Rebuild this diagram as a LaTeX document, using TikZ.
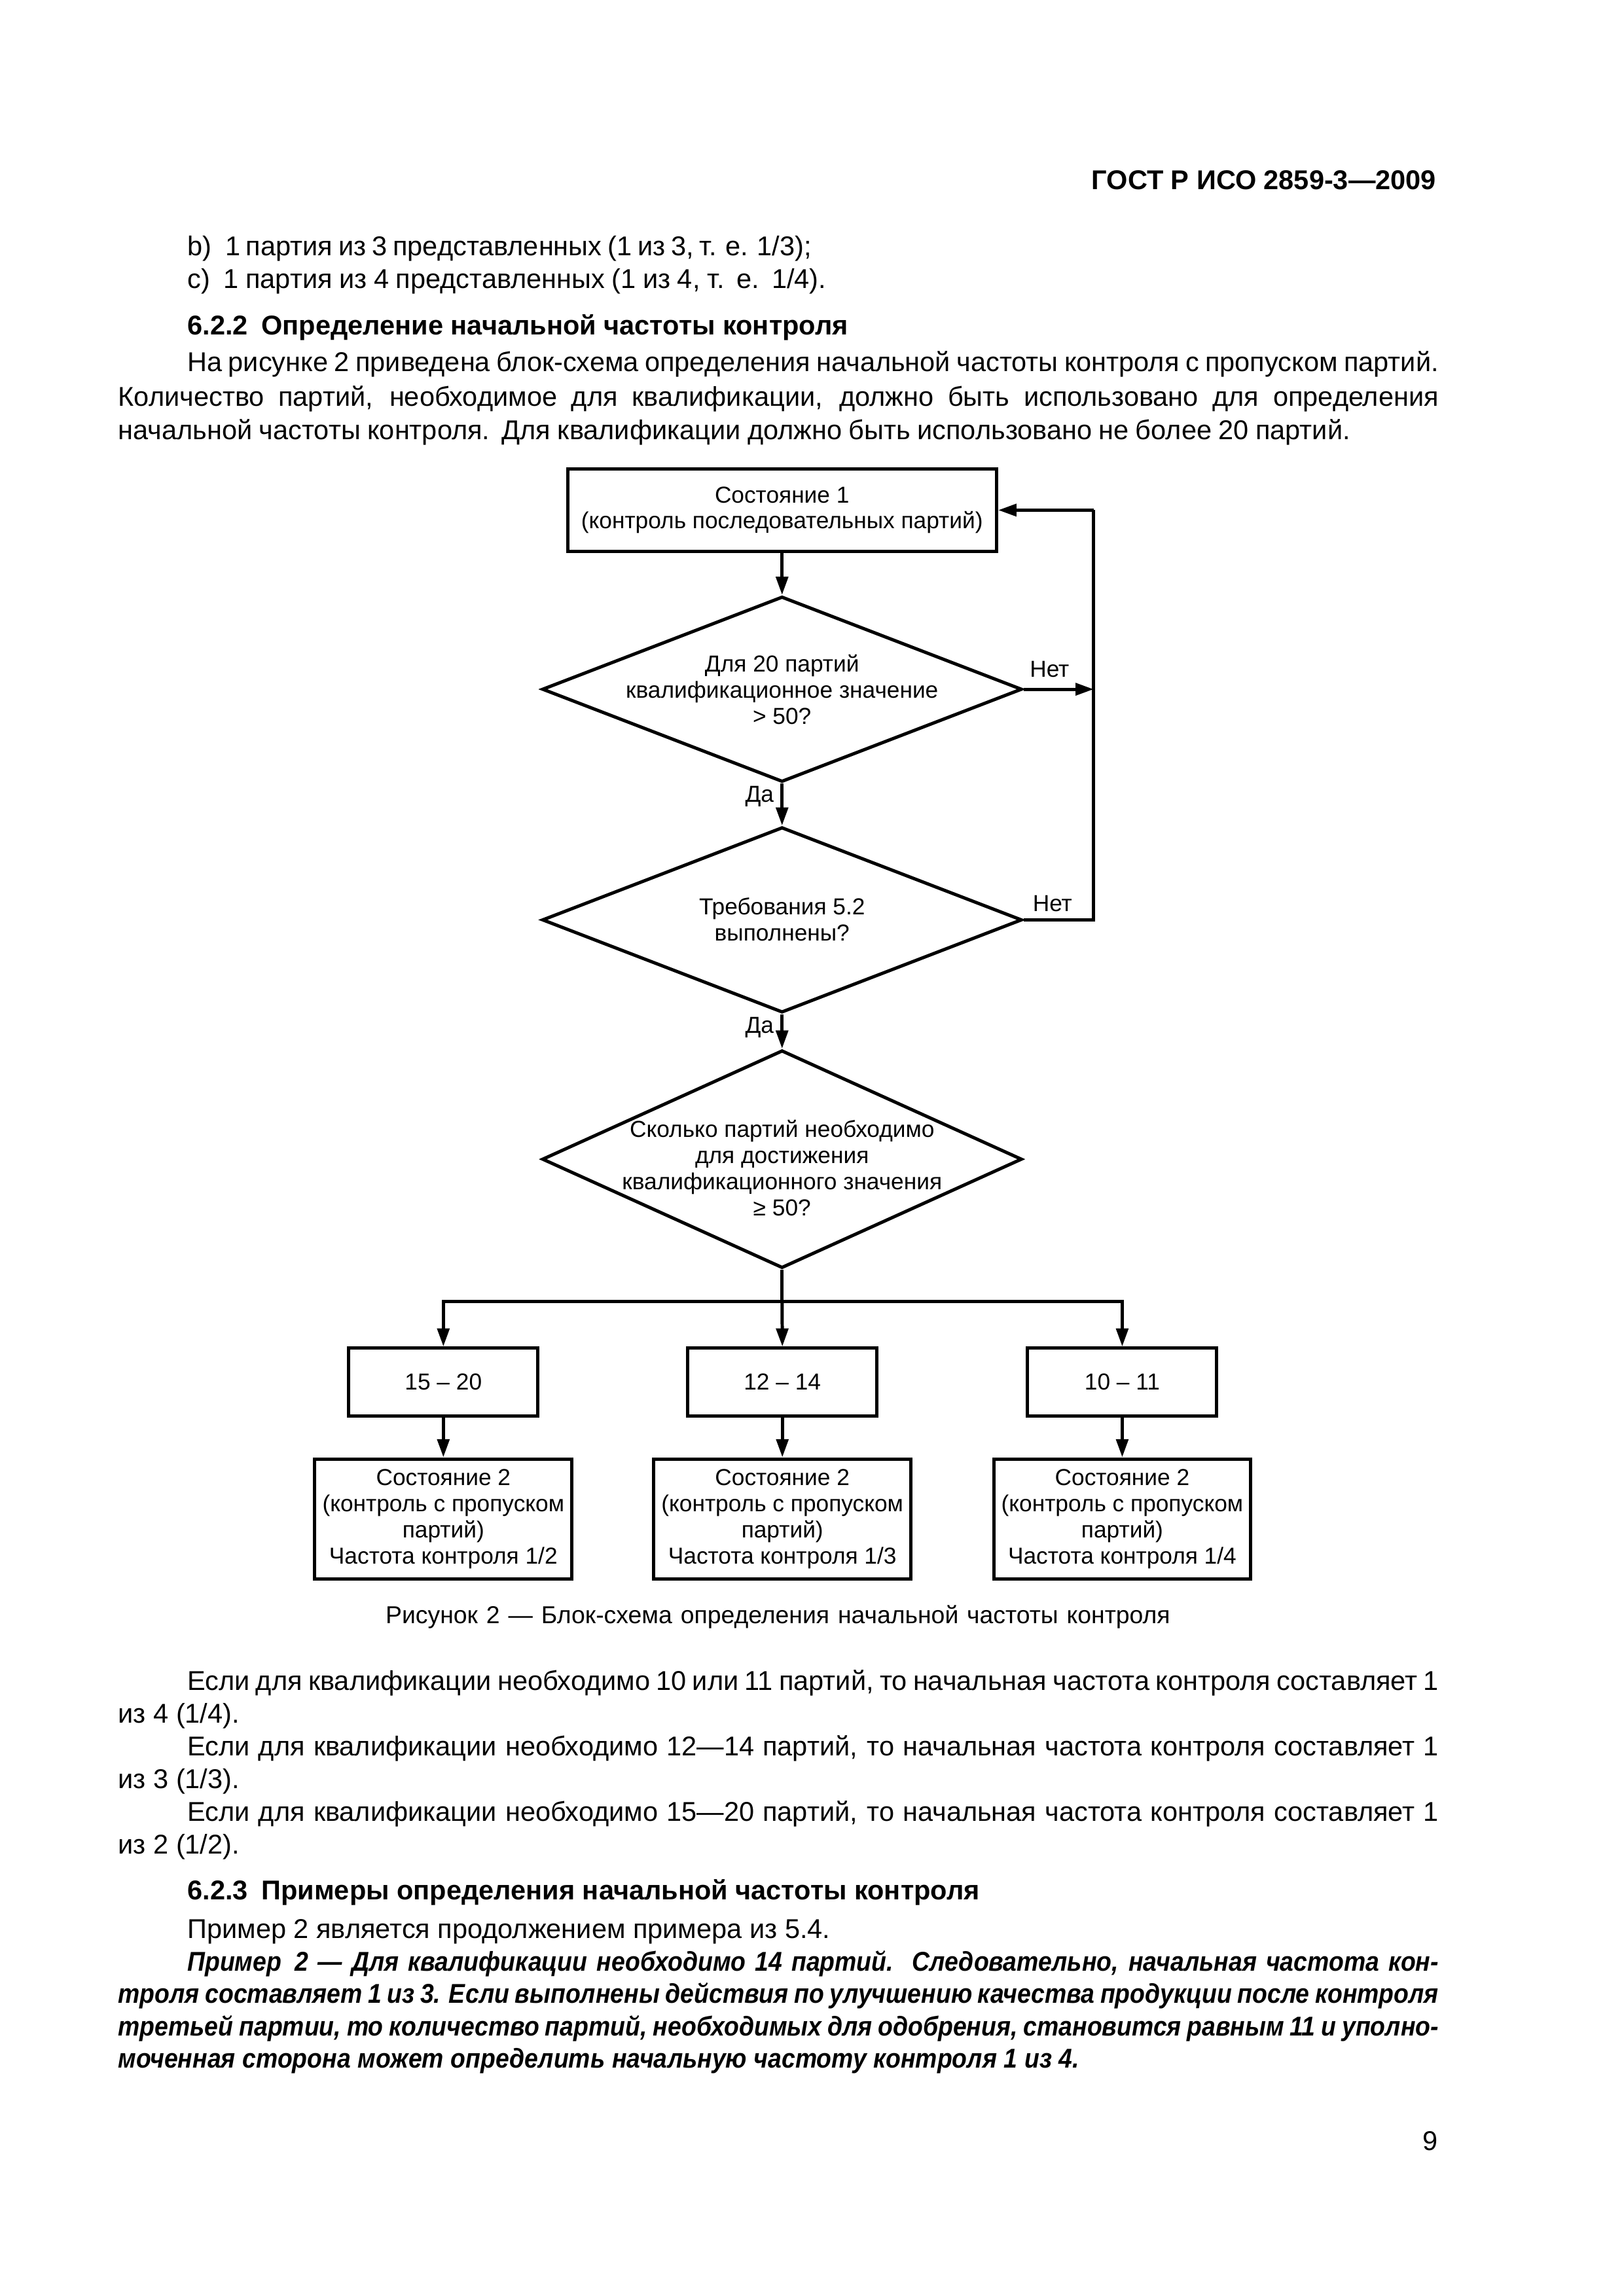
\documentclass[tikz,border=0pt]{standalone}
\usepackage{fontspec}
\setmainfont{Liberation Sans}
\newfontfamily\flowf{Liberation Sans}
\newfontfamily\hdf{Liberation Sans}
\newfontfamily\bif{Liberation Sans}[FakeStretch=0.9]
\usetikzlibrary{arrows.meta,shapes.geometric}
\newlength\pxu
\setlength\pxu{0.19039mm}
\newcommand\jl[2]{\makebox[#1\pxu][s]{\spaceskip=0.2em plus 0.8em minus 0.15em\relax #2}}
\newcommand\bodyfont{\fontsize{10}{12}\selectfont}
\newcommand\flowfont{\flowf\fontsize{8.5}{9.6}\selectfont}
\begin{document}
\begin{tikzpicture}[x=0.19039mm,y=-0.19039mm,
  txt/.style={anchor=base west,inner sep=0pt,font=\bodyfont},
  bitxt/.style={anchor=base west,inner sep=0pt,font=\bif\fontsize{10}{12}\selectfont\bfseries\itshape},
  hd/.style={anchor=base west,inner sep=0pt,font=\hdf\fontsize{10}{12}\selectfont\bfseries},
  blk/.style={draw,line width=1.2pt,inner sep=0pt,align=center,font=\flowfont},
  dia/.style={draw,line width=1.2pt,shape=diamond,inner sep=0pt,minimum width=326\pxu},
  dtxt/.style={inner sep=0pt,align=center,font=\flowfont},
  lab/.style={inner sep=0pt,font=\flowfont},
  arr/.style={line width=1.2pt,-{Triangle[length=2.35mm,width=1.55mm]}},
  ln/.style={line width=1.2pt}]
\useasboundingbox (0,0) rectangle (1103,1560);
\fill[white] (0,0) rectangle (1103,1560);

% header
\node[hd,anchor=base east] (hdr) at (976,128.7) {ГОСТ Р ИСО 2859-3—2009};

\node[txt] (tb) at (127,173.5) {\jl{424}{b)\enspace 1 партия из 3 представленных (1 из 3, т. е. 1/3);}};
\node[txt] (tc) at (127,196) {\jl{434}{c)\enspace 1 партия из 4 представленных (1 из 4, т. е. 1/4).}};
\node[hd] (h622) at (127,227.5) {6.2.2\enspace Определение начальной частоты контроля};
\node[txt] (p1) at (127,252.5) {\jl{850}{На рисунке 2 приведена блок-схема определения начальной частоты контроля с пропуском партий.}};
\node[txt] (p2) at (80,276) {\jl{897}{Количество партий, необходимое для квалификации, должно быть использовано для определения}};
\node[txt] (p3) at (80,298.5) {\jl{837}{начальной частоты контроля. Для квалификации должно быть использовано не более 20 партий.}};

% flowchart
\node[blk,minimum width=291.5\pxu,minimum height=56.2\pxu] (s1) at (531.3,346.6) {Состояние 1\\(контроль последовательных партий)};
\node[dia,minimum height=126\pxu] (d1) at (531.3,468.3) {};
\node[dtxt] (d1t) at (531.3,468.5) {Для 20 партий\\квалификационное значение\\> 50?};
\node[dia,minimum height=126\pxu] (d2) at (531.3,625) {};
\node[dtxt] (d2t) at (531.3,624.5) {Требования 5.2\\выполнены?};
\node[dia,minimum height=148\pxu] (d3) at (531.3,787.6) {};
\node[dtxt] (d3t) at (531.3,793.5) {Сколько партий необходимо\\для достижения\\квалификационного значения\\≥ 50?};

\coordinate (r1) at (743,468.3);
\coordinate (r2) at (743,625);
\coordinate (r3) at (743,346.6);
\coordinate (j0) at (531.3,884.4);
\coordinate (jl) at (301.2,884.4);
\coordinate (jr) at (762.4,884.4);

\node[blk,minimum width=128.5\pxu,minimum height=46\pxu] (a1) at (301.2,939) {15 – 20};
\node[blk,minimum width=128.5\pxu,minimum height=46\pxu] (a2) at (531.5,939) {12 – 14};
\node[blk,minimum width=128.5\pxu,minimum height=46\pxu] (a3) at (762.4,939) {10 – 11};
\node[blk,minimum width=174.7\pxu,minimum height=81.5\pxu] (b1) at (301.2,1032) {Состояние 2\\(контроль с пропуском\\партий)\\Частота контроля 1/2};
\node[blk,minimum width=174.7\pxu,minimum height=81.5\pxu] (b2) at (531.5,1032) {Состояние 2\\(контроль с пропуском\\партий)\\Частота контроля 1/3};
\node[blk,minimum width=174.7\pxu,minimum height=81.5\pxu] (b3) at (762.4,1032) {Состояние 2\\(контроль с пропуском\\партий)\\Частота контроля 1/4};

\draw[arr] (s1.south) -- (d1.north);
\draw[arr] (d1.south) -- (d2.north);
\draw[arr] (d2.south) -- (d3.north);
\draw[arr] (d1.east) -- (r1);
\draw[ln,line join=miter] (d2.east) -- (r2) -- (r3);
\draw[arr] (r3) -- (s1.east);
\draw[ln] (d3.south) -- (j0);
\draw[ln,line cap=rect] (jl) -- (jr);
\draw[arr] (jl) -- (a1.north);
\draw[arr] (j0) -- (a2.north);
\draw[arr] (jr) -- (a3.north);
\draw[arr] (a1.south) -- (b1.north);
\draw[arr] (a2.south) -- (b2.north);
\draw[arr] (a3.south) -- (b3.north);

\node[lab] (n1) at (713,454.5) {Нет};
\node[lab] (n2) at (715,614) {Нет};
\node[lab] (y1) at (516,541) {Да};
\node[lab] (y2) at (516,698) {Да};

\node[inner sep=0pt,font=\fontsize{9}{11}\selectfont] (cap) at (528.5,1098.8) {\jl{533}{Рисунок 2 — Блок-схема определения начальной частоты контроля}};

% bottom text
\node[txt] (q1) at (127,1148.5) {\jl{850}{Если для квалификации необходимо 10 или 11 партий, то начальная частота контроля составляет 1}};
\node[txt] (q2) at (80,1170.5) {из 4 (1/4).};
\node[txt] (q3) at (127,1193) {\jl{850}{Если для квалификации необходимо 12—14 партий, то начальная частота контроля составляет 1}};
\node[txt] (q4) at (80,1215) {из 3 (1/3).};
\node[txt] (q5) at (127,1237.5) {\jl{850}{Если для квалификации необходимо 15—20 партий, то начальная частота контроля составляет 1}};
\node[txt] (q6) at (80,1259.5) {из 2 (1/2).};
\node[hd] (h623) at (127,1290.5) {6.2.3\enspace Примеры определения начальной частоты контроля};
\node[txt] (e0) at (127,1317) {Пример 2 является продолжением примера из 5.4.};
\node[bitxt] (e1) at (127,1339) {\jl{850}{Пример\enspace 2 — Для квалификации необходимо 14 партий. Следовательно, начальная частота кон-}};
\node[bitxt] (e2) at (80,1361) {\jl{897}{троля составляет 1 из 3. Если выполнены действия по улучшению качества продукции после контроля}};
\node[bitxt] (e3) at (80,1383) {\jl{897}{третьей партии, то количество партий, необходимых для одобрения, становится равным 11 и уполно-}};
\node[bitxt] (e4) at (80,1405) {\jl{653}{моченная сторона может определить начальную частоту контроля 1 из 4.}};
\node[txt,anchor=base east] (pg) at (977,1461) {9};
\end{tikzpicture}
\end{document}
